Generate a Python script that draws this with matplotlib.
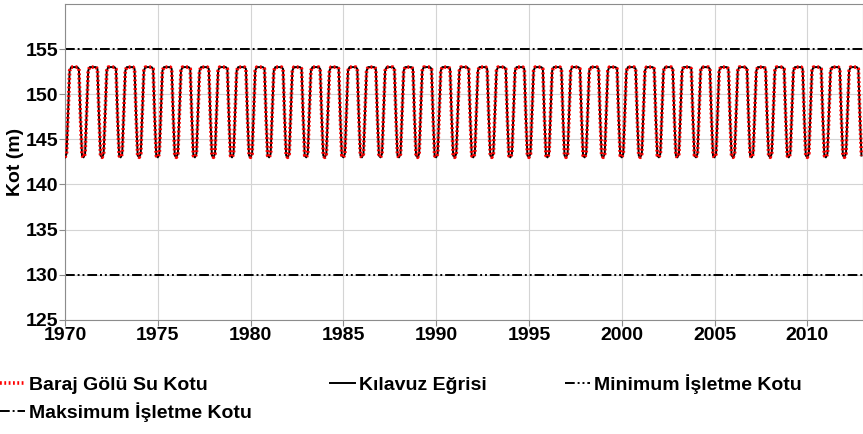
import numpy as np
import matplotlib
matplotlib.use("Agg")
import matplotlib.pyplot as plt

plt.rcParams["font.family"] = ["Liberation Sans", "DejaVu Sans"]
plt.rcParams["font.weight"] = "bold"

# yillik dongu: aylik baraj golu kotu (m), Ocak..Aralik
aylik_kot = [143.0, 143.4, 148.0, 152.6, 153.0, 153.0, 153.0, 153.0, 153.0, 152.8, 147.5, 143.2]
yillar = list(range(1970, 2013))
maks_kot = 155.0
min_kot = 130.0

t = []
kot = []
for y in yillar:
    for m, v in enumerate(aylik_kot):
        t.append(y + m / 12.0)
        kot.append(v)
t = np.array(t)
kot = np.array(kot)

fig = plt.figure(figsize=(8.63, 4.34), dpi=100)
ax = fig.add_axes([0.0753, 0.263, 0.9247, 0.728])

h_kil, = ax.plot(t, kot, color="black", lw=1.4, label="Kılavuz Eğrisi", zorder=3)
h_bar, = ax.plot(t, kot, color="red", lw=2.6, ls=(0, (0.5, 0.7)), label="Baraj Gölü Su Kotu", zorder=4)
h_min = ax.axhline(min_kot, color="black", lw=1.4, dashes=(5, 1.5, 1, 1.5, 1, 1.5), label="Minimum İşletme Kotu")
h_max = ax.axhline(maks_kot, color="black", lw=1.4, dashes=(5, 1.5, 1, 1.5), label="Maksimum İşletme Kotu")

ax.set_xlim(1970, 2013)
ax.set_ylim(125, 160)
ax.set_xticks(range(1970, 2011, 5))
ax.set_yticks(range(125, 156, 5))
ax.grid(True, color="#d4d4d4", lw=0.8)
ax.set_axisbelow(True)
for s in ax.spines.values():
    s.set_color("#8c8c8c")
ax.tick_params(labelsize=14, length=4, width=0.8, color="#8c8c8c", pad=1)
for lab in ax.get_xticklabels() + ax.get_yticklabels():
    lab.set_fontweight("bold")
ax.set_ylabel("Kot (m)", fontsize=14, fontweight="bold", labelpad=1)

fig.legend(handles=[h_bar, h_max, h_kil, h_min], ncol=3, loc="upper left",
           bbox_to_anchor=(0.0, 0.137), frameon=False, fontsize=14,
           borderpad=0, borderaxespad=0, handlelength=1.3, handletextpad=0.2,
           columnspacing=4.0, labelspacing=0.42)

fig.savefig("out.png", dpi=100)
